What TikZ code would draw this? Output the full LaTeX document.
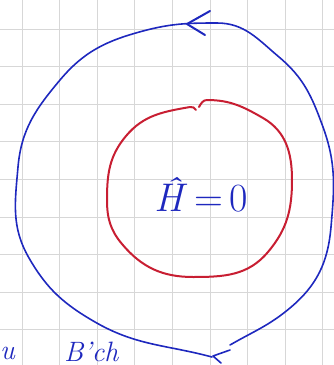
\documentclass[tikz,border=0pt]{standalone}
\usepackage{fontspec}
\usepackage{tikz}

\definecolor{inkblue}{RGB}{30,40,190}
\definecolor{inkred}{RGB}{200,30,50}
\definecolor{gridgray}{RGB}{215,215,215}

\tikzset{
  paperline/.style={gridgray, line width=0.9pt},
  blueink/.style={inkblue, line width=1.6pt, line cap=round, line join=round},
  redink/.style={inkred, line width=2pt, line cap=round, line join=round},
  notetext/.style={inkblue, inner sep=0pt}
}

\begin{document}
\begin{tikzpicture}[x=1pt,y=-1pt]
    \useasboundingbox (0,0) rectangle (334,365);
    \clip (0,0) rectangle (334,365);

    % squared paper
    \foreach \gx in {22,59.6,97.2,134.8,172.4,210,247.6,285.2,322.8}
        \draw[paperline] (\gx,0) -- (\gx,365);
    \foreach \gy in {-8.6,29,66.6,104.2,141.8,179.4,217,254.6,292.2,329.8}
        \draw[paperline] (0,\gy) -- (334,\gy);

    % outer loop
    \draw[blueink] (230,345)
        to[out=30,in=220] (290,308)
        to[out=40,in=265] (331,227)
        to[out=85,in=290] (323,127)
        to[out=110,in=320] (279,57)
        to[out=140,in=0] (217,23)
        to[out=180,in=15] (143,31)
        to[out=195,in=50] (60,80)
        to[out=230,in=85] (18,167)
        to[out=265,in=120] (29,258)
        to[out=300,in=150] (95,322)
        to[out=330,in=165] (212,357);
    % arrow marks
    \draw[blueink, line width=2pt] (210,11) -- (187,24) -- (205,35);
    \draw[blueink] (230,350) -- (213,356) -- (221,363);

    % inner circle
    \draw[redink] (199,107) to[out=60,in=180] (207,100)
        to[out=0,in=150] (263,118)
        to[out=330,in=90] (292,180)
        to[out=270,in=50] (268,252)
        to[out=230,in=0] (193,277)
        to[out=180,in=310] (122,244)
        to[out=130,in=270] (107,200)
        to[out=90,in=230] (126,136)
        to[out=50,in=190] (190,107)
        to[out=10,in=120] (196,110);

    % label
    \node[notetext, font=\fontsize{40}{40}\selectfont] (lbl) at (201,195) {\textit{Ĥ}\,=\,0};

    % notes at the bottom edge
    \node[notetext, font=\fontsize{28}{28}\selectfont\itshape, anchor=base west] (nu) at (0,359) {u};
    \node[notetext, font=\fontsize{28}{28}\selectfont\itshape, anchor=base west] (nb) at (64,361) {B'ch};
\end{tikzpicture}
\end{document}
